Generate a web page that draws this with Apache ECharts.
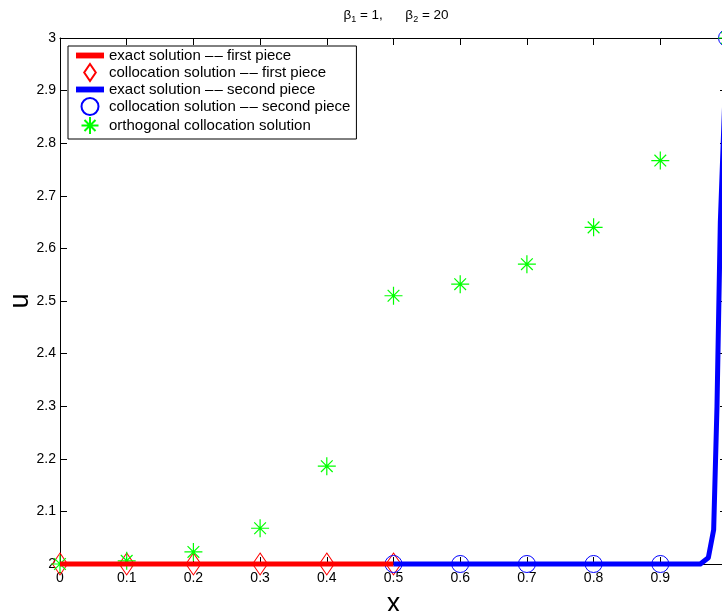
<!DOCTYPE html>
<html>
<head>
<meta charset="utf-8">
<script src="https://cdn.jsdelivr.net/npm/echarts@6/dist/echarts.min.js"></script>
<style>
  html, body { margin: 0; padding: 0; background: #fff; }
  #chart { width: 722px; height: 611px; }
</style>
</head>
<body>
<div id="chart"></div>
<script>
// values
var firstExactX = [0, 0.5];
var firstExactU = [2, 2];
var firstCollX = [0, 0.1, 0.2, 0.3, 0.4, 0.5];
var firstCollU = [2, 2, 2, 2, 2, 2];
var secondExactX = [0.5, 0.96, 0.972, 0.98, 0.985, 0.99, 1];
var secondExactU = [2, 2, 2.012, 2.065, 2.3, 2.65, 3];
var secondCollX = [0.5, 0.6, 0.7, 0.8, 0.9, 1];
var secondCollU = [2, 2, 2, 2, 2, 3];
var orthoX = [0, 0.1, 0.2, 0.3, 0.4, 0.5, 0.6, 0.7, 0.8, 0.9, 1];
var orthoU = [2.0, 2.006, 2.023, 2.068, 2.186, 2.510, 2.532, 2.570, 2.640, 2.767, 3.0];

var DASH = '\u2013\u200a\u2013';
var names = [
    'exact solution ' + DASH + ' first piece',
    'collocation solution ' + DASH + ' first piece',
    'exact solution ' + DASH + ' second piece',
    'collocation solution ' + DASH + ' second piece',
    'orthogonal collocation solution'
];

var FONT = '"Liberation Sans", Arial, Helvetica, sans-serif';
var RED = '#ff0000', BLUE = '#0000ff', GREEN = '#00ff00';

var barIcon = 'path://M0,0 L24,0 L24,5 L0,5 Z';
var diamondIcon = 'path://M7.5,0 L15,11 L7.5,22 L0,11 Z';
var starIcon = 'path://M10,0 L10,20 M0,10 L20,10 M3.5,3.5 L16.5,16.5 M16.5,3.5 L3.5,16.5';

function zip(xs, ys) {
    var out = [];
    for (var i = 0; i < xs.length; i++) {
        out.push([xs[i], ys[i]]);
    }
    return out;
}

// plain box axis (matlab style, ticks inside, no labels)
function boxAxis(pos, isX) {
    return {
        type: 'value',
        position: pos,
        min: isX ? 0 : 2,
        max: isX ? 1 : 3,
        interval: 0.1,
        axisLine: { show: true, onZero: false, lineStyle: { color: '#000', width: 1 } },
        axisTick: { show: true, inside: true, length: 7, lineStyle: { color: '#000' } },
        axisLabel: { show: false },
        splitLine: { show: false }
    };
}

var chart = echarts.init(document.getElementById('chart'));

var xMain = boxAxis('bottom', true);
xMain.axisLabel = {
    show: true, color: '#000', fontSize: 14, fontFamily: FONT, margin: 7,
    formatter: function(v) { return v >= 1 ? '' : String(+v.toFixed(1)); }
};
xMain.name = 'x';
xMain.nameLocation = 'middle';
xMain.nameGap = 27;
xMain.nameMoveOverlap = false;
xMain.nameTextStyle = { color: '#000', fontSize: 27, fontFamily: FONT };

var yMain = boxAxis('left', false);
yMain.axisLabel = {
    show: true, color: '#000', fontSize: 14, fontFamily: FONT, margin: 4,
    formatter: function(v) { return String(+v.toFixed(1)); }
};
yMain.name = 'u';
yMain.nameLocation = 'middle';
yMain.nameGap = 26;
yMain.nameRotate = 90;
yMain.nameMoveOverlap = false;
yMain.nameTextStyle = { color: '#000', fontSize: 27, fontFamily: FONT };

var option = {
    animation: false,
    backgroundColor: '#fff',
    title: {
        text: '{n|\u03b2}{s|1}{n| = 1,      \u03b2}{s|2}{n| = 20}',
        left: 391,
        top: 1,
        textAlign: 'center',
        textStyle: {
            rich: {
                n: { fontSize: 13.5, fontWeight: 'normal', fontFamily: FONT, color: '#000', lineHeight: 18, verticalAlign: 'middle' },
                s: { fontSize: 9, fontWeight: 'normal', fontFamily: FONT, color: '#000', lineHeight: 9, verticalAlign: 'bottom' }
            }
        }
    },
    grid: { left: 60, top: 38, right: -5, bottom: 47, outerBoundsMode: 'none', containLabel: false },
    legend: {
        orient: 'vertical',
        left: 68,
        top: 46,
        itemWidth: 28,
        itemHeight: 17,
        itemGap: 0,
        padding: [2, 6, 4, 8],
        borderColor: '#000',
        borderWidth: 1,
        borderRadius: 0,
        backgroundColor: '#fff',
        selectedMode: false,
        textStyle: { color: '#000', fontSize: 15, fontFamily: FONT },
        data: [
            { name: names[0], icon: barIcon, itemStyle: { borderWidth: 0 } },
            { name: names[1], icon: diamondIcon },
            { name: names[2], icon: barIcon, itemStyle: { borderWidth: 0 } },
            { name: names[3], icon: 'circle' },
            { name: names[4], icon: starIcon }
        ]
    },
    xAxis: [xMain, boxAxis('top', true)],
    yAxis: [yMain, boxAxis('right', false)],
    series: [
        {
            name: names[0], type: 'line', clip: false, showSymbol: false, symbol: 'none',
            data: zip(firstExactX, firstExactU),
            itemStyle: { color: RED },
            lineStyle: { color: RED, width: 5 }
        },
        {
            name: names[1], type: 'scatter', clip: false, symbol: diamondIcon, symbolSize: [15, 22],
            data: zip(firstCollX, firstCollU),
            itemStyle: { color: 'rgba(0,0,0,0)', borderColor: RED, borderWidth: 1, opacity: 1 }
        },
        {
            name: names[2], type: 'line', clip: false, showSymbol: false, symbol: 'none',
            data: zip(secondExactX, secondExactU),
            itemStyle: { color: BLUE },
            lineStyle: { color: BLUE, width: 5, join: 'round' }
        },
        {
            name: names[3], type: 'scatter', clip: false, symbol: 'circle', symbolSize: 17,
            data: zip(secondCollX, secondCollU),
            itemStyle: { color: 'rgba(0,0,0,0)', borderColor: BLUE, borderWidth: 1, opacity: 1 }
        },
        {
            name: names[4], type: 'scatter', clip: false, symbol: starIcon, symbolSize: 18,
            data: zip(orthoX, orthoU),
            itemStyle: { color: 'rgba(0,0,0,0)', borderColor: GREEN, borderWidth: 1.2, opacity: 1 }
        }
    ]
};

chart.setOption(option);
</script>
</body>
</html>
